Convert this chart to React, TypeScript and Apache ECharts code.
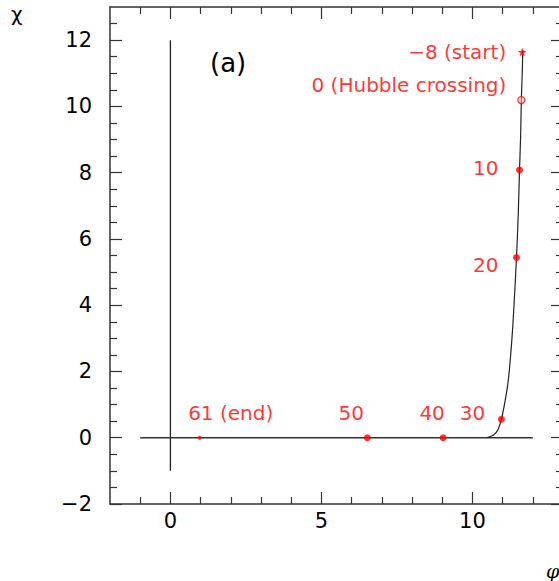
import React, { useEffect, useRef } from "react";
import * as echarts from "echarts";

// Axis ticks
const xMajorTicks = [0, 5, 10];
const xMinorTicks = [-1, 1, 2, 3, 4, 6, 7, 8, 9, 11, 12];
const yMajorTicks = [-2, 0, 2, 4, 6, 8, 10, 12];
const yMinorTicks = [
  -1.5, -1, -0.5, 0.5, 1, 1.5, 2.5, 3, 3.5, 4.5, 5, 5.5, 6.5, 7, 7.5, 8.5, 9, 9.5,
  10.5, 11, 11.5, 12.5,
];

// Reference lines (phi = 0 and chi = 0)
const verticalRefLine = [
  [0, -1],
  [0, 12],
];
const horizontalRefLine = [
  [-1, 0],
  [12, 0],
];

// Trajectory curve (phi, chi)
const curvePhi = [10.47, 10.7, 10.85, 10.96, 11.08, 11.19, 11.31, 11.39, 11.46, 11.52, 11.56, 11.6, 11.62, 11.65, 11.67];
const curveChi = [0, 0.08, 0.25, 0.56, 1.1, 1.74, 3.0, 4.2, 5.44, 6.8, 8.08, 9.2, 10.19, 11.0, 11.7];

// Marked e-fold points
const pointLabels = ["−8 (start)", "0 (Hubble crossing)", "10", "20", "30", "40", "50", "61 (end)"];
const pointPhi = [11.65, 11.62, 11.56, 11.46, 10.96, 9.03, 6.52, 0.97];
const pointChi = [11.64, 10.19, 8.08, 5.44, 0.56, 0, 0, 0];

const RED = "#ff0000";
const AXIS = "#333333";
const STAR =
  "path://M50,0 L61,35 L98,35 L68,57 L79,91 L50,70 L21,91 L32,57 L2,35 L39,35 Z";

// label placement per point: [align, dx, dy]
const labelPlacement: [string, number, number][] = [
  ["right", -16, 0],
  ["right", -15, -15],
  ["right", -21, -2],
  ["right", -18, 8],
  ["center", -29, -6],
  ["center", -11, -25],
  ["center", -16, -25],
  ["center", 31, -25],
];
const symbolKinds = ["star", "open", "dot", "dot", "dot", "dot", "dot", "small"];

export default function App() {
  const ref = useRef<HTMLDivElement>(null);
  useEffect(() => {
    if (!ref.current) return;
    const chart = echarts.init(ref.current, null, { renderer: "svg" });

    const tickFont = { fontFamily: "DejaVu Sans", fontSize: 21, color: "#000" };
    const baseAxis = (pos: string, major: boolean, ticks: number[], labels: boolean, isX: boolean) => ({
      type: "value",
      position: pos,
      min: -2,
      max: 13,
      axisLine: { show: major, onZero: false, lineStyle: { color: AXIS, width: 1.5 } },
      axisTick: {
        show: true,
        inside: true,
        length: major ? 12 : 7,
        customValues: ticks,
        lineStyle: { color: AXIS, width: 1.2 },
      },
      axisLabel: labels
        ? {
            show: true,
            customValues: ticks,
            margin: isX ? 6 : 18,
            formatter: (v: number) => String(v).replace("-", "−"),
            ...tickFont,
          }
        : { show: false },
      splitLine: { show: false },
      minorTick: { show: false },
    });

    const pointData = pointLabels.map((name, i) => {
      const [align, dx, dy] = labelPlacement[i];
      const kind = symbolKinds[i];
      return {
        name,
        value: [pointPhi[i], pointChi[i]],
        symbol: kind === "star" ? STAR : "circle",
        symbolSize: kind === "star" ? 9 : kind === "small" ? 4 : 7,
        itemStyle:
          kind === "open"
            ? { color: "rgba(255,200,200,0.6)", borderColor: RED, borderWidth: 1.2 }
            : { color: RED },
        label: {
          show: true,
          position: "inside",
          align,
          verticalAlign: "middle",
          offset: [dx, dy],
          formatter: name,
          color: RED,
          fontFamily: "DejaVu Sans",
          fontSize: 20,
        },
      };
    });

    chart.setOption({
      animation: false,
      backgroundColor: "#ffffff",
      grid: { left: 110, top: 7, right: 7, bottom: 77, containLabel: false },
      xAxis: [
        baseAxis("bottom", true, xMajorTicks, true, true),
        baseAxis("bottom", false, xMinorTicks, false, true),
        baseAxis("top", true, xMajorTicks, false, true),
        baseAxis("top", false, xMinorTicks, false, true),
      ],
      yAxis: [
        baseAxis("left", true, yMajorTicks, true, false),
        baseAxis("left", false, yMinorTicks, false, false),
        baseAxis("right", true, yMajorTicks, false, false),
        baseAxis("right", false, yMinorTicks, false, false),
      ],
      series: [
        {
          type: "line",
          data: verticalRefLine,
          symbol: "none",
          lineStyle: { color: "#222", width: 1.3 },
          silent: true,
        },
        {
          type: "line",
          data: horizontalRefLine,
          symbol: "none",
          lineStyle: { color: "#333", width: 1.5 },
          silent: true,
        },
        {
          type: "line",
          data: curvePhi.map((p, i) => [p, curveChi[i]]),
          symbol: "none",
          smooth: 0.3,
          lineStyle: { color: "#222", width: 1.2 },
          silent: true,
        },
        {
          type: "scatter",
          data: pointData,
          z: 5,
        },
      ],
      graphic: [
        {
          type: "text",
          left: 11,
          top: 4,
          style: { text: "χ", fontFamily: "DejaVu Sans", fontSize: 20, fill: "#000" },
        },
        {
          type: "text",
          left: 210,
          top: 50,
          style: { text: "(a)", fontFamily: "DejaVu Sans", fontSize: 26, fill: "#000" },
        },
        {
          type: "text",
          left: 546,
          top: 561,
          style: {
            text: "φ",
            fontFamily: "DejaVu Serif",
            fontStyle: "italic",
            fontSize: 19,
            fill: "#000",
          },
        },
      ],
    });
    return () => chart.dispose();
  }, []);

  return (
    <div
      style={{
        position: "fixed",
        left: 0,
        top: 0,
        width: 559,
        height: 581,
        overflow: "hidden",
        background: "#fff",
      }}
    >
      <div ref={ref} style={{ width: 570, height: 581 }} />
    </div>
  );
}
